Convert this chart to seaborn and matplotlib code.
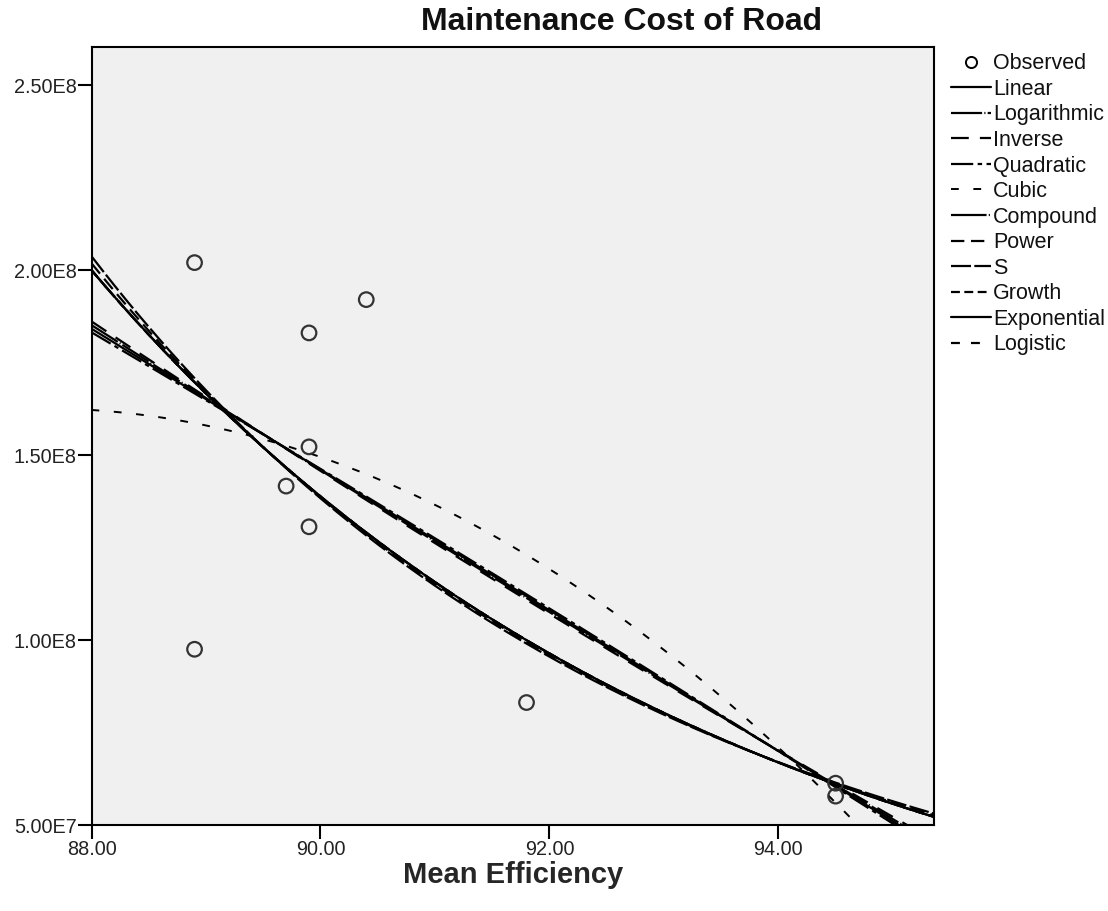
import numpy as np
import pandas as pd
import matplotlib
matplotlib.use("Agg")
import matplotlib.pyplot as plt
import seaborn as sns
from matplotlib.ticker import FixedLocator, FuncFormatter
from matplotlib.lines import Line2D

# ---- data ----
mean_efficiency = [88.9, 88.9, 89.9, 89.9, 89.9, 89.7, 90.4, 91.8, 94.5, 94.5]
maintenance_cost = [2.02e8, 0.975e8, 1.83e8, 1.522e8, 1.306e8, 1.416e8, 1.92e8,
                    0.831e8, 0.613e8, 0.578e8]
model_names = ["Linear", "Logarithmic", "Inverse", "Quadratic", "Cubic", "Compound",
               "Power", "S", "Growth", "Exponential", "Logistic"]
x_ticks = [88.0, 90.0, 92.0, 94.0]
y_ticks = [0.5e8, 1.0e8, 1.5e8, 2.0e8, 2.5e8]
x_range = (88.0, 95.36)
y_range = (0.5e8, 2.6035e8)

sns.set_theme(style="white")
plt.rcParams["font.family"] = ["Liberation Sans", "DejaVu Sans"]

x = np.array(mean_efficiency)
y = np.array(maintenance_cost)
xs = np.linspace(x_range[0], x_range[1], 300)

def lsq(cols, target):
    A = np.column_stack(cols)
    coef, *_ = np.linalg.lstsq(A, target, rcond=None)
    return coef

# curve-estimation fits computed from the observed data
# (as SPSS does with near-collinear powers of x: quadratic keeps 1, x^2;
#  cubic keeps 1, x, x^3)
def fit_curves():
    out = {}
    one = np.ones_like(x)
    b = np.polyfit(x, y, 1); out["Linear"] = np.polyval(b, xs)
    b = np.polyfit(np.log(x), y, 1); out["Logarithmic"] = np.polyval(b, np.log(xs))
    b = np.polyfit(1 / x, y, 1); out["Inverse"] = np.polyval(b, 1 / xs)
    u, us = x / 90.0, xs / 90.0
    q = lsq([one, u ** 2], y)
    out["Quadratic"] = q[0] + q[1] * us ** 2
    c = lsq([one, u, u ** 3], y)
    out["Cubic"] = c[0] + c[1] * us + c[2] * us ** 3
    b = np.polyfit(x, np.log(y), 1); out["Compound"] = np.exp(np.polyval(b, xs))
    b = np.polyfit(np.log(x), np.log(y), 1); out["Power"] = np.exp(np.polyval(b, np.log(xs)))
    b = np.polyfit(1 / x, np.log(y), 1); out["S"] = np.exp(np.polyval(b, 1 / xs))
    out["Growth"] = out["Compound"].copy()
    out["Exponential"] = out["Compound"].copy()
    b = np.polyfit(x, np.log(1 / y), 1); out["Logistic"] = 1 / np.exp(np.polyval(b, xs))
    return out

curves = fit_curves()
styles = {
    "Linear": (None, 1.6),
    "Logarithmic": ((14, 1, 0.5, 1), 1.6),
    "Inverse": ((8, 5), 1.6),
    "Quadratic": ((10, 2, 2, 2), 1.6),
    "Cubic": ((4, 7.5), 1.4),
    "Compound": ((16, 1, 0.5, 1), 1.6),
    "Power": ((6, 3), 1.6),
    "S": ((9, 1.5), 1.6),
    "Growth": ((4, 2), 1.6),
    "Exponential": (None, 1.6),
    "Logistic": ((4, 5), 1.6),
}

fig = plt.figure(figsize=(11.08, 9.11), dpi=100)
ax = fig.add_axes([0.0826, 0.0944, 0.843 - 0.0826, 0.9487 - 0.0944])
ax.set_facecolor("#f0f0f0")

handles = []
for name in model_names:
    df = pd.DataFrame({"x": xs, "y": curves[name]})
    dash, lw = styles[name]
    sns.lineplot(data=df, x="x", y="y", ax=ax, color="black", linewidth=lw,
                 sort=False, estimator=None)
    ln = ax.get_lines()[-1]
    if dash is not None:
        ln.set_dashes(dash)
    h = Line2D([], [], color="black", linewidth=lw)
    if dash is not None:
        h.set_dashes(dash)
    handles.append(h)

obs = pd.DataFrame({"x": x, "y": y})
sns.scatterplot(data=obs, x="x", y="y", ax=ax, marker="o", s=110,
                facecolor="none", edgecolor="#333333", linewidth=1.6, zorder=5)

ax.set_xlim(*x_range)
ax.set_ylim(*y_range)
ax.xaxis.set_major_locator(FixedLocator(x_ticks))
ax.yaxis.set_major_locator(FixedLocator(y_ticks))
ax.xaxis.set_major_formatter(FuncFormatter(lambda v, p: f"{v:.2f}"))

def sci(v, p):
    e = int(np.floor(np.log10(v)))
    m = v / 10 ** e
    return f"{m:.2f}E{e}"
ax.yaxis.set_major_formatter(FuncFormatter(sci))

ax.tick_params(axis="both", direction="out", length=10, width=1.5, color="black",
               labelsize=14.3, labelcolor="#222222", left=True, bottom=True, pad=0.5)
for s in ax.spines.values():
    s.set_color("black")
    s.set_linewidth(1.5)

ax.set_xlabel("Mean Efficiency", fontsize=21, fontweight="bold", labelpad=2)
ax.set_ylabel("")
fig.text(0.561, 0.976, "Maintenance Cost of Road", fontsize=23, fontweight="bold",
         ha="center", va="center", color="#111111")

obs_h = Line2D([], [], marker="o", linestyle="none", markerfacecolor="none",
               markeredgecolor="black", markersize=8, markeredgewidth=1.4)
leg = ax.legend([obs_h] + handles, ["Observed"] + model_names,
                loc="upper left", bbox_to_anchor=(1.005, 1.008), frameon=False,
                fontsize=15.5, handlelength=1.85, handletextpad=0.1,
                labelspacing=0.21, borderaxespad=0.2)
for t in leg.get_texts():
    t.set_color("#111111")

fig.savefig("out.png", dpi=100)
